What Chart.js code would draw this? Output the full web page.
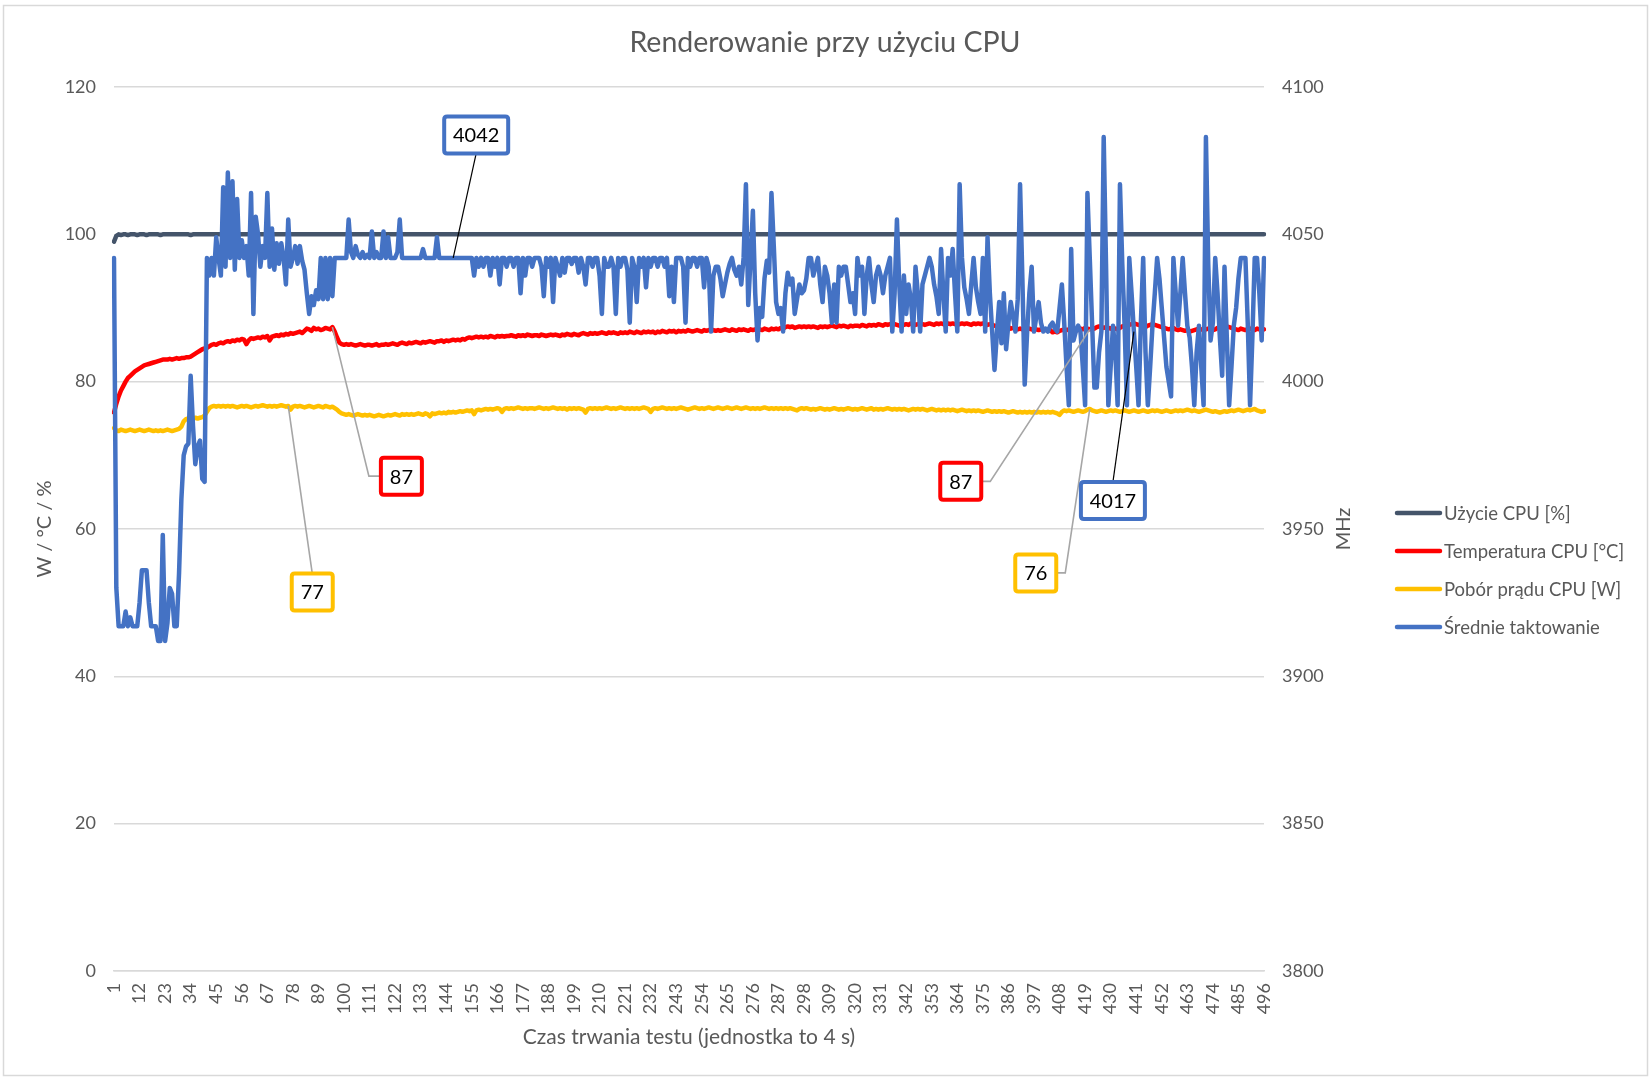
<!DOCTYPE html>
<html lang="pl">
<head>
<meta charset="utf-8">
<title>Renderowanie przy użyciu CPU</title>
<script src="https://cdn.jsdelivr.net/npm/chart.js@4.4.1/dist/chart.umd.min.js"></script>
<style>
  html, body { margin: 0; padding: 0; background: #fff; }
  canvas { display: block; }
</style>
</head>
<body>
<canvas id="chart" width="1650" height="1078"></canvas>
<script>
// Texts
const chartTitle = "Renderowanie przy użyciu CPU";
const leftAxisTitle = "W / °C / %";
const rightAxisTitle = "MHz";
const bottomAxisTitle = "Czas trwania testu (jednostka to 4 s)";
const seriesNames = ["Użycie CPU [%]", "Temperatura CPU [°C]", "Pobór prądu CPU [W]", "Średnie taktowanie"];
const seriesColors = ["#44546A", "#FF0000", "#FFC000", "#4472C4"];

// Axis ranges
const leftTicks = { min: 0, max: 120, step: 20 };
const rightTicks = { min: 3800, max: 4100, step: 50 };
const tickEvery = 11; // labels 1, 12, 23, ... 496

// CPU usage [%]
const cpuUsage = [
  99.0, 99.8, 100, 99.9, 100, 100, 99.9, 100, 100, 100,
  99.9, 100, 100, 100, 99.9, 100, 100, 100, 100, 100,
  99.9, 100, 100, 100, 100, 100, 100, 100, 100, 100,
  100, 100, 100, 99.9, 100, 100, 100, 100, 100, 100,
  100, 100, 100, 100, 100, 100, 100, 100, 100, 100,
  100, 100, 100, 100, 100, 100, 100, 100, 100, 100,
  100, 100, 100, 100, 100, 100, 100, 100, 100, 100,
  100, 100, 100, 100, 100, 100, 100, 100, 100, 100,
  100, 100, 100, 100, 100, 100, 100, 100, 100, 100,
  100, 100, 100, 100, 100, 100, 100, 100, 100, 100,
  100, 100, 100, 100, 100, 100, 100, 100, 100, 100,
  100, 100, 100, 100, 100, 100, 100, 100, 100, 100,
  100, 100, 100, 100, 100, 100, 100, 100, 100, 100,
  100, 100, 100, 100, 100, 100, 100, 100, 100, 100,
  100, 100, 100, 100, 100, 100, 100, 100, 100, 100,
  100, 100, 100, 100, 100, 100, 100, 100, 100, 100,
  100, 100, 100, 100, 100, 100, 100, 100, 100, 100,
  100, 100, 100, 100, 100, 100, 100, 100, 100, 100,
  100, 100, 100, 100, 100, 100, 100, 100, 100, 100,
  100, 100, 100, 100, 100, 100, 100, 100, 100, 100,
  100, 100, 100, 100, 100, 100, 100, 100, 100, 100,
  100, 100, 100, 100, 100, 100, 100, 100, 100, 100,
  100, 100, 100, 100, 100, 100, 100, 100, 100, 100,
  100, 100, 100, 100, 100, 100, 100, 100, 100, 100,
  100, 100, 100, 100, 100, 100, 100, 100, 100, 100,
  100, 100, 100, 100, 100, 100, 100, 100, 100, 100,
  100, 100, 100, 100, 100, 100, 100, 100, 100, 100,
  100, 100, 100, 100, 100, 100, 100, 100, 100, 100,
  100, 100, 100, 100, 100, 100, 100, 100, 100, 100,
  100, 100, 100, 100, 100, 100, 100, 100, 100, 100,
  100, 100, 100, 100, 100, 100, 100, 100, 100, 100,
  100, 100, 100, 100, 100, 100, 100, 100, 100, 100,
  100, 100, 100, 100, 100, 100, 100, 100, 100, 100,
  100, 100, 100, 100, 100, 100, 100, 100, 100, 100,
  100, 100, 100, 100, 100, 100, 100, 100, 100, 100,
  100, 100, 100, 100, 100, 100, 100, 100, 100, 100,
  100, 100, 100, 100, 100, 100, 100, 100, 100, 100,
  100, 100, 100, 100, 100, 100, 100, 100, 100, 100,
  100, 100, 100, 100, 100, 100, 100, 100, 100, 100,
  100, 100, 100, 100, 100, 100, 100, 100, 100, 100,
  100, 100, 100, 100, 100, 100, 100, 100, 100, 100,
  100, 100, 100, 100, 100, 100, 100, 100, 100, 100,
  100, 100, 100, 100, 100, 100, 100, 100, 100, 100,
  100, 100, 100, 100, 100, 100, 100, 100, 100, 100,
  100, 100, 100, 100, 100, 100, 100, 100, 100, 100,
  100, 100, 100, 100, 100, 100, 100, 100, 100, 100,
  100, 100, 100, 100, 100, 100, 100, 100, 100, 100,
  100, 100, 100, 100, 100, 100, 100, 100, 100, 100,
  100, 100, 100, 100, 100, 100, 100, 100, 100, 100,
  100, 100, 100, 100, 100, 100
];

// CPU temperature [°C]
const cpuTemp = [
  75.8, 77.0, 78.0, 78.8, 79.4, 80.0, 80.5, 80.8, 81.1, 81.4,
  81.6, 81.8, 82.0, 82.2, 82.3, 82.4, 82.5, 82.6, 82.7, 82.8,
  82.9, 83.0, 83.0, 83.0, 83.1, 83.0, 83.1, 83.2, 83.1, 83.2,
  83.2, 83.3, 83.3, 83.4, 83.6, 83.8, 84.0, 84.2, 84.4, 84.5,
  84.6, 84.8, 85.0, 85.1, 85.0, 85.2, 85.3, 85.2, 85.4, 85.5,
  85.4, 85.6, 85.5, 85.7, 85.6, 85.8, 85.7, 85.1, 85.6, 85.9,
  85.8, 85.9, 86.0, 85.9, 86.1, 86.0, 86.2, 85.6, 86.1, 86.2,
  86.3, 86.2, 86.4, 86.3, 86.5, 86.4, 86.6, 86.5, 86.6, 86.7,
  86.8, 86.6, 86.9, 87.2, 87.1, 86.9, 87.3, 87.1, 87.2, 87.0,
  87.1, 87.3, 87.2, 87.1, 87.4, 86.8, 86.0, 85.3, 85.1, 85.0,
  85.1, 85.0, 85.1, 85.0, 84.9, 85.0, 85.1, 85.0, 84.9, 85.0,
  85.0, 84.9, 85.0, 85.1, 84.9, 85.0, 85.0, 85.1, 85.0, 85.1,
  85.2, 85.1, 85.0, 85.2, 85.3, 85.2, 85.1, 85.3, 85.2, 85.3,
  85.4, 85.3, 85.2, 85.4, 85.3, 85.4, 85.5, 85.4, 85.3, 85.5,
  85.5, 85.6, 85.4, 85.6, 85.5, 85.6, 85.7, 85.6, 85.7, 85.6,
  85.8, 85.7, 85.9, 86.0, 85.9, 86.0, 86.1, 86.0, 86.1, 86.0,
  86.1, 86.0, 86.2, 86.1, 86.0, 86.2, 86.1, 86.2, 86.1, 86.2,
  86.2, 86.3, 86.2, 86.1, 86.3, 86.2, 86.3, 86.2, 86.4, 86.3,
  86.2, 86.3, 86.3, 86.2, 86.4, 86.3, 86.2, 86.3, 86.4, 86.3,
  86.4, 86.3, 86.2, 86.4, 86.3, 86.5, 86.4, 86.3, 86.5, 86.4,
  86.3, 86.5, 86.6, 86.5, 86.4, 86.6, 86.5, 86.6, 86.5, 86.6,
  86.7, 86.6, 86.5, 86.7, 86.6, 86.7, 86.6, 86.5, 86.7, 86.6,
  86.7, 86.6, 86.8, 86.7, 86.6, 86.8, 86.7, 86.6, 86.8, 86.7,
  86.8, 86.7, 86.8, 86.6, 86.8, 86.7, 86.9, 86.8, 86.7, 86.9,
  86.8, 86.9, 86.7, 86.9, 86.8, 86.9, 86.8, 87.0, 86.9, 86.8,
  86.9, 87.0, 86.9, 86.8, 87.0, 86.9, 87.0, 86.9, 87.0, 86.9,
  87.0, 86.9, 87.0, 87.1, 87.0, 86.9, 87.1, 87.0, 86.9, 87.1,
  87.0, 87.1, 87.0, 86.9, 87.1, 87.0, 87.1, 87.0, 87.1, 87.0,
  87.2, 87.1, 87.0, 87.2, 87.1, 87.2, 87.1, 87.3, 87.2, 87.4,
  87.5, 87.4, 87.5, 87.3, 87.4, 87.5, 87.4, 87.5, 87.4, 87.5,
  87.4, 87.5, 87.4, 87.3, 87.5, 87.4, 87.5, 87.4, 87.5, 87.6,
  87.5, 87.4, 87.6, 87.5, 87.6, 87.5, 87.4, 87.6, 87.5, 87.6,
  87.6, 87.5, 87.7, 87.6, 87.5, 87.7, 87.6, 87.7, 87.6, 87.8,
  87.7, 87.6, 87.8, 87.7, 87.8, 87.7, 87.8, 87.7, 87.6, 87.8,
  87.7, 87.8, 87.7, 87.9, 87.8, 87.7, 87.8, 87.9, 87.8, 87.7,
  87.8, 87.9, 87.8, 87.7, 87.9, 87.8, 87.9, 87.8, 87.7, 87.9,
  87.8, 87.9, 87.8, 87.7, 87.8, 87.9, 87.8, 87.9, 87.8, 87.7,
  87.9, 87.8, 87.9, 87.8, 87.9, 87.8, 87.7, 87.8, 87.7, 87.6,
  87.5, 87.6, 87.4, 87.5, 87.3, 87.4, 87.2, 87.3, 87.2, 87.1,
  87.2, 87.1, 87.0, 87.1, 87.2, 87.1, 87.0, 87.1, 87.0, 87.1,
  87.0, 87.1, 86.9, 87.0, 86.7, 86.8, 86.7, 86.9, 87.0, 87.1,
  87.0, 87.1, 87.0, 87.2, 87.1, 87.0, 87.2, 87.1, 87.3, 87.2,
  87.1, 87.3, 87.2, 87.4, 87.5, 87.4, 87.3, 87.4, 87.3, 87.2,
  87.3, 87.2, 87.1, 87.3, 87.5, 87.6, 87.5, 87.7, 87.8, 87.9,
  87.8, 87.7, 87.6, 87.5, 87.4, 87.6, 87.7, 87.8, 87.7, 87.6,
  87.5, 87.4, 87.3, 87.2, 87.1, 87.2, 87.3, 87.1, 87.0, 87.1,
  87.0, 86.9, 87.0, 86.8, 86.9, 87.0, 87.1, 87.2, 87.1, 87.0,
  87.1, 87.2, 87.1, 87.0, 87.1, 87.3, 87.4, 87.6, 87.7, 87.5,
  87.4, 87.3, 87.2, 87.1, 87.0, 87.2, 87.1, 87.0, 87.1, 87.2,
  87.1, 87.0, 87.2, 87.1, 87.0, 87.1
];

// CPU power draw [W]
const cpuPower = [
  73.7, 73.4, 73.3, 73.5, 73.4, 73.3, 73.4, 73.5, 73.4, 73.3,
  73.4, 73.5, 73.4, 73.3, 73.4, 73.5, 73.4, 73.3, 73.4, 73.3,
  73.4, 73.3, 73.4, 73.5, 73.4, 73.3, 73.4, 73.5, 73.6, 73.9,
  74.6, 74.9, 75.0, 74.9, 75.0, 75.1, 75.0, 75.1, 75.2, 75.4,
  75.9, 76.4, 76.6, 76.7, 76.6, 76.7, 76.6, 76.7, 76.6, 76.7,
  76.6, 76.7, 76.6, 76.5, 76.6, 76.7, 76.6, 76.7, 76.6, 76.5,
  76.6, 76.7, 76.6, 76.7, 76.8, 76.7, 76.6, 76.7, 76.6, 76.7,
  76.6, 76.7, 76.8, 76.7, 76.6, 76.7, 76.2, 76.6, 76.7, 76.6,
  76.7, 76.6, 76.5, 76.6, 76.7, 76.6, 76.5, 76.6, 76.7, 76.6,
  76.5, 76.7, 76.6, 76.5, 76.6, 76.4, 76.2, 75.9, 75.7, 75.6,
  75.5, 75.6, 75.5, 75.4, 75.5, 75.6, 75.5, 75.4, 75.5, 75.4,
  75.5, 75.4, 75.3, 75.4, 75.5, 75.4, 75.3, 75.4, 75.5, 75.4,
  75.5, 75.6, 75.5, 75.4, 75.6, 75.5, 75.6, 75.5, 75.6, 75.5,
  75.6, 75.7, 75.6, 75.5, 75.7, 75.6, 75.3, 75.7, 75.6, 75.7,
  75.8, 75.7, 75.8, 75.7, 75.9, 75.8, 75.9, 75.8, 75.9, 76.0,
  75.9, 76.0, 76.1, 76.0, 76.1, 75.6, 76.1, 76.2, 76.1, 76.2,
  76.3, 76.2, 76.3, 76.2, 76.3, 76.4, 76.3, 75.9, 76.3, 76.4,
  76.3, 76.4, 76.3, 76.4, 76.5, 76.4, 76.3, 76.4, 76.3, 76.4,
  76.4, 76.3, 76.4, 76.5, 76.4, 76.3, 76.4, 76.3, 76.4, 76.5,
  76.4, 76.3, 76.4, 76.3, 76.4, 76.2, 76.4, 76.3, 76.4, 76.3,
  76.4, 76.3, 76.2, 75.8, 76.3, 76.4, 76.3, 76.4, 76.3, 76.4,
  76.3, 76.4, 76.5, 76.4, 76.3, 76.4, 76.3, 76.4, 76.5, 76.4,
  76.3, 76.4, 76.3, 76.4, 76.3, 76.4, 76.3, 76.4, 76.5, 76.4,
  76.3, 75.9, 76.3, 76.4, 76.3, 76.4, 76.5, 76.4, 76.3, 76.4,
  76.3, 76.4, 76.3, 76.4, 76.5, 76.4, 76.3, 76.2, 76.3, 76.4,
  76.5, 76.4, 76.3, 76.4, 76.3, 76.4, 76.5, 76.4, 76.3, 76.4,
  76.5, 76.4, 76.3, 76.4, 76.5, 76.4, 76.3, 76.4, 76.5, 76.4,
  76.3, 76.4, 76.5, 76.4, 76.3, 76.4, 76.3, 76.4, 76.3, 76.4,
  76.5, 76.4, 76.3, 76.4, 76.3, 76.4, 76.3, 76.4, 76.3, 76.4,
  76.3, 76.4, 76.3, 76.2, 76.1, 76.3, 76.4, 76.3, 76.4, 76.3,
  76.2, 76.3, 76.2, 76.3, 76.4, 76.3, 76.2, 76.3, 76.2, 76.3,
  76.4, 76.3, 76.2, 76.3, 76.2, 76.3, 76.4, 76.3, 76.2, 76.3,
  76.2, 76.3, 76.4, 76.3, 76.2, 76.3, 76.4, 76.2, 76.3, 76.2,
  76.3, 76.2, 76.3, 76.4, 76.3, 76.2, 76.3, 76.2, 76.3, 76.2,
  76.3, 76.2, 76.1, 76.2, 76.3, 76.2, 76.3, 76.2, 76.3, 76.2,
  76.1, 76.2, 76.3, 76.2, 76.1, 76.2, 76.1, 76.2, 76.1, 76.2,
  76.1, 76.2, 76.1, 76.0, 76.1, 76.2, 76.1, 76.0, 76.1, 76.0,
  76.1, 76.0, 76.1, 76.0, 75.9, 76.0, 76.1, 76.0, 75.9, 76.0,
  75.9, 76.0, 75.9, 76.0, 75.9, 75.8, 75.9, 76.0, 75.9, 75.8,
  75.9, 75.8, 75.9, 75.8, 75.9, 75.8, 75.9, 75.8, 75.9, 75.8,
  75.9, 75.8, 75.9, 75.8, 75.9, 75.8, 75.7, 75.5, 75.9, 76.1,
  76.0, 76.1, 76.0, 75.9, 76.0, 76.1, 76.0, 75.9, 76.0, 76.2,
  76.3, 76.1, 76.0, 75.9, 76.0, 76.1, 76.0, 75.9, 76.0, 76.1,
  76.0, 76.1, 76.0, 75.9, 76.0, 76.1, 76.0, 75.9, 76.0, 76.1,
  76.0, 75.9, 76.0, 76.1, 76.0, 75.9, 76.0, 76.1, 76.0, 76.1,
  76.0, 75.9, 76.0, 76.1, 76.0, 75.9, 76.0, 76.1, 76.0, 76.1,
  76.0, 76.1, 76.2, 76.1, 76.0, 76.1, 76.0, 75.9, 76.0, 76.1,
  76.2, 76.1, 76.0, 75.9, 76.0, 75.9, 75.8, 75.9, 76.0, 75.9,
  76.0, 76.1, 76.0, 76.1, 76.2, 76.1, 76.0, 76.1, 76.2, 76.1,
  76.2, 76.3, 76.1, 76.0, 75.9, 76.0
];

// Average clock [MHz]
const cpuClock = [
  4042, 3930, 3917, 3917, 3917, 3922, 3917, 3920, 3917, 3917,
  3917, 3925, 3936, 3936, 3936, 3925, 3917, 3917, 3917, 3912,
  3912, 3948, 3912, 3918, 3930, 3928, 3917, 3917, 3935, 3960,
  3975, 3978, 3979, 4002, 3985, 3972, 3978, 3980, 3967, 3966,
  4042, 4036, 4042, 4036, 4049, 4042, 4036, 4066, 4039, 4071,
  4042, 4068, 4038, 4062, 4042, 4048, 4042, 4046, 4036, 4064,
  4023, 4056, 4050, 4039, 4046, 4042, 4064, 4039, 4052, 4038,
  4047, 4040, 4047, 4042, 4033, 4055, 4039, 4042, 4046, 4040,
  4046, 4041, 4038, 4030, 4023, 4029, 4026, 4031, 4028, 4042,
  4028, 4042, 4028, 4042, 4029, 4042, 4042, 4042, 4042, 4042,
  4042, 4055, 4044, 4042, 4046, 4043, 4042, 4044, 4042, 4043,
  4042, 4051, 4042, 4044, 4042, 4042, 4051, 4042, 4049, 4042,
  4042, 4042, 4044, 4055, 4042, 4042, 4042, 4042, 4042, 4042,
  4042, 4042, 4042, 4045, 4042, 4042, 4042, 4042, 4042, 4049,
  4042, 4042, 4042, 4042, 4042, 4042, 4042, 4042, 4042, 4042,
  4042, 4042, 4042, 4042, 4042, 4036, 4042, 4039, 4042, 4039,
  4042, 4042, 4036, 4042, 4039, 4042, 4033, 4042, 4042, 4039,
  4042, 4042, 4039, 4042, 4042, 4030, 4042, 4036, 4042, 4042,
  4039, 4042, 4042, 4042, 4039, 4029, 4042, 4039, 4042, 4027,
  4042, 4039, 4036, 4042, 4037, 4042, 4042, 4040, 4042, 4042,
  4037, 4042, 4039, 4033, 4042, 4042, 4039, 4042, 4042, 4036,
  4023, 4042, 4039, 4039, 4042, 4039, 4023, 4042, 4039, 4042,
  4042, 4038, 4020, 4042, 4039, 4027, 4042, 4039, 4042, 4032,
  4042, 4039, 4042, 4042, 4039, 4042, 4042, 4039, 4042, 4029,
  4039, 4027, 4042, 4042, 4042, 4039, 4020, 4042, 4039, 4042,
  4042, 4039, 4042, 4042, 4032, 4042, 4039, 4017, 4036, 4039,
  4039, 4035, 4029, 4033, 4037, 4040, 4042, 4038, 4036, 4039,
  4033, 4042, 4067, 4026, 4042, 4058, 4030, 4014, 4025, 4022,
  4035, 4041, 4037, 4064, 4046, 4027, 4023, 4025, 4017, 4030,
  4037, 4033, 4035, 4023, 4028, 4033, 4030, 4031, 4035, 4042,
  4042, 4036, 4039, 4042, 4033, 4027, 4039, 4036, 4030, 4020,
  4033, 4020, 4039, 4036, 4039, 4039, 4033, 4027, 4030, 4023,
  4042, 4036, 4039, 4023, 4036, 4042, 4033, 4027, 4036, 4039,
  4036, 4030, 4036, 4039, 4042, 4017, 4030, 4055, 4033, 4017,
  4036, 4023, 4033, 4028, 4017, 4039, 4030, 4017, 4033, 4036,
  4039, 4042, 4039, 4033, 4029, 4023, 4045, 4030, 4017, 4042,
  4036, 4045, 4030, 4017, 4067, 4042, 4032, 4028, 4023, 4033,
  4042, 4032, 4027, 4023, 4042, 4017, 4049, 4030, 4017, 4004,
  4016, 4027, 4013, 4030, 4011, 4020, 4027, 4022, 4017, 4028,
  4067, 4035, 3999, 4016, 4030, 4039, 4017, 4022, 4027, 4020,
  4017, 4018, 4017, 4019, 4020, 4018, 4017, 4025, 4033, 4020,
  4005, 3992, 4045, 4014, 4017, 4019, 4017, 4005, 3992, 4064,
  4042, 4020, 3998, 3998, 4010, 4017, 4083, 4040, 3992, 4005,
  4019, 4010, 3992, 4067, 4040, 4019, 3992, 4042, 4030, 4017,
  4005, 3992, 4020, 4042, 4010, 3992, 4005, 4019, 4030, 4042,
  4035, 4025, 4015, 4005, 4000, 3995, 4042, 4030, 4019, 4030,
  4042, 4030, 4019, 4015, 4005, 3992, 4010, 4019, 4005, 3992,
  4083, 4040, 4014, 4020, 4042, 4030, 4015, 4002, 4039, 4015,
  3992, 4005, 4019, 4025, 4035, 4042, 4042, 4042, 4020, 3992,
  4015, 4042, 4042, 4030, 4014, 4042
];

// Test duration categories (1 unit = 4 s)
const categories = cpuClock.map((_, i) => String(i + 1));

// Data labels with callout boxes: which series/point, where the box sits relative to the point
const callouts = [
  { series: 3, point: 146, dx: 23, dy: -123, from: "bottom" },
  { series: 1, point: 94, dx: 69, dy: 149, from: "left" },
  { series: 2, point: 75, dx: 24, dy: 186, from: "top" },
  { series: 1, point: 420, dx: -129, dy: 152, from: "right" },
  { series: 2, point: 420, dx: -54, dy: 164, from: "right" },
  { series: 3, point: 439, dx: -21, dy: 169, from: "top" }
];

const FONT = "Lato, 'Open Sans', sans-serif";
const TEXT_GREY = "#595959";
const GRID_GREY = "#d9d9d9";

function roundRect(ctx, x, y, w, h, r) {
  ctx.beginPath();
  ctx.moveTo(x + r, y);
  ctx.lineTo(x + w - r, y);
  ctx.quadraticCurveTo(x + w, y, x + w, y + r);
  ctx.lineTo(x + w, y + h - r);
  ctx.quadraticCurveTo(x + w, y + h, x + w - r, y + h);
  ctx.lineTo(x + r, y + h);
  ctx.quadraticCurveTo(x, y + h, x, y + h - r);
  ctx.lineTo(x, y + r);
  ctx.quadraticCurveTo(x, y, x + r, y);
  ctx.closePath();
}

const decorPlugin = {
  id: "decor",
  beforeDraw(chart) {
    const ctx = chart.ctx;
    ctx.save();
    ctx.fillStyle = "#fff";
    ctx.fillRect(0, 0, chart.width, chart.height);
    ctx.strokeStyle = GRID_GREY;
    ctx.lineWidth = 1.5;
    ctx.strokeRect(3.5, 5.5, chart.width - 6, chart.height - 8);
    ctx.restore();
  },
  afterDraw(chart) {
    const ctx = chart.ctx;
    const area = chart.chartArea;
    ctx.save();

    // title
    ctx.fillStyle = TEXT_GREY;
    ctx.textAlign = "center";
    ctx.textBaseline = "alphabetic";
    ctx.font = "28.5px " + FONT;
    ctx.fillText(chartTitle, 825, 52);

    // axis titles
    ctx.textBaseline = "middle";
    ctx.font = "21px " + FONT;
    ctx.fillText(bottomAxisTitle, (area.left + area.right) / 2, 1037);

    ctx.font = "20px " + FONT;
    ctx.save();
    ctx.translate(45, (area.top + area.bottom) / 2);
    ctx.rotate(-Math.PI / 2);
    ctx.fillText(leftAxisTitle, 0, 0);
    ctx.restore();

    ctx.save();
    ctx.translate(1344, (area.top + area.bottom) / 2);
    ctx.rotate(-Math.PI / 2);
    ctx.fillText(rightAxisTitle, 0, 0);
    ctx.restore();

    // legend
    ctx.font = "18.5px " + FONT;
    ctx.textAlign = "left";
    seriesNames.forEach((name, i) => {
      const y = 513 + i * 38;
      ctx.strokeStyle = seriesColors[i];
      ctx.lineWidth = 4.5;
      ctx.lineCap = "round";
      ctx.beginPath();
      ctx.moveTo(1397, y);
      ctx.lineTo(1440, y);
      ctx.stroke();
      ctx.fillStyle = TEXT_GREY;
      ctx.fillText(name, 1444, y + 1);
    });

    // callouts
    ctx.font = "20px " + FONT;
    ctx.textAlign = "center";
    ctx.lineCap = "butt";
    callouts.forEach(c => {
      const el = chart.getDatasetMeta(c.series).data[c.point];
      const value = chart.data.datasets[c.series].data[c.point];
      const text = String(Math.round(value));
      const w = Math.round(ctx.measureText(text).width + 18);
      const h = 37;
      const bx = el.x + c.dx;
      const by = el.y + c.dy;
      const left = bx - w / 2, top = by - h / 2;

      // leader line
      ctx.strokeStyle = c.series === 3 ? "#000" : "#a6a6a6";
      ctx.lineWidth = c.series === 3 ? 1.2 : 1.6;
      ctx.beginPath();
      if (c.from === "bottom") {
        ctx.moveTo(bx, top + h);
      } else if (c.from === "top") {
        ctx.moveTo(bx, top);
      } else if (c.from === "left") {
        ctx.moveTo(left, by);
        ctx.lineTo(left - 12, by);
      } else {
        ctx.moveTo(left + w, by);
        ctx.lineTo(left + w + 9, by);
      }
      ctx.lineTo(el.x, el.y);
      ctx.stroke();

      // box
      roundRect(ctx, left, top, w, h, 3);
      ctx.fillStyle = "#fff";
      ctx.fill();
      ctx.strokeStyle = seriesColors[c.series];
      ctx.lineWidth = 4;
      ctx.stroke();

      ctx.fillStyle = "#000";
      ctx.fillText(text, bx, by + 1);
    });

    ctx.restore();
  }
};

function lineDataset(label, data, color, axis, order) {
  return {
    label,
    data,
    borderColor: color,
    backgroundColor: color,
    borderWidth: 4.5,
    pointRadius: 0,
    pointHoverRadius: 0,
    tension: 0,
    borderJoinStyle: "round",
    borderCapStyle: "round",
    yAxisID: axis,
    order
  };
}

const tickFont = { family: FONT, size: 18 };

new Chart(document.getElementById("chart").getContext("2d"), {
  type: "line",
  data: {
    labels: categories,
    datasets: [
      lineDataset(seriesNames[0], cpuUsage, seriesColors[0], "y", 3),
      lineDataset(seriesNames[1], cpuTemp, seriesColors[1], "y", 2),
      lineDataset(seriesNames[2], cpuPower, seriesColors[2], "y", 1),
      lineDataset(seriesNames[3], cpuClock, seriesColors[3], "y1", 0)
    ]
  },
  options: {
    responsive: false,
    animation: false,
    devicePixelRatio: 1,
    layout: { padding: { left: 0, right: 306, top: 87, bottom: 0 } },
    plugins: {
      legend: { display: false },
      title: { display: false },
      tooltip: { enabled: false }
    },
    scales: {
      x: {
        type: "category",
        offset: false,
        grid: { display: false, drawTicks: false },
        border: { display: true, color: GRID_GREY, width: 1.5 },
        ticks: {
          autoSkip: false,
          minRotation: 90,
          maxRotation: 90,
          padding: 12,
          color: TEXT_GREY,
          font: tickFont,
          callback: function (value, index) {
            return index % tickEvery === 0 ? this.getLabelForValue(value) : null;
          }
        },
        afterFit: s => { s.height = 107; }
      },
      y: {
        position: "left",
        min: leftTicks.min,
        max: leftTicks.max,
        grid: { color: GRID_GREY, lineWidth: 1.5, drawTicks: false },
        border: { display: false },
        ticks: { stepSize: leftTicks.step, padding: 18, color: TEXT_GREY, font: tickFont,
          callback: v => String(v) },
        afterFit: s => { s.width = 114; }
      },
      y1: {
        position: "right",
        min: rightTicks.min,
        max: rightTicks.max,
        grid: { display: false, drawTicks: false },
        border: { display: false },
        ticks: { stepSize: rightTicks.step, padding: 18, color: TEXT_GREY, font: tickFont,
          callback: v => String(v) },
        afterFit: s => { s.width = 80; }
      }
    }
  },
  plugins: [decorPlugin]
});
</script>
</body>
</html>
